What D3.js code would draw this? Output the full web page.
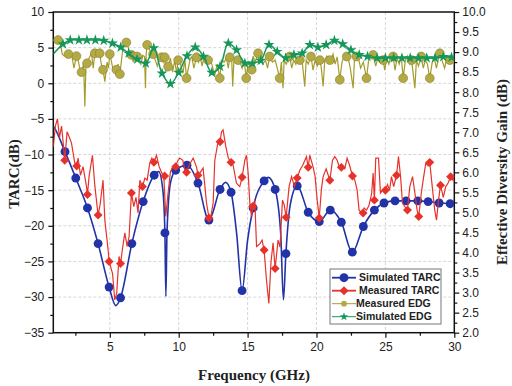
<!DOCTYPE html>
<html>
<head>
<meta charset="utf-8">
<script src="https://cdn.jsdelivr.net/npm/d3@7"></script>
<style>
  body { margin: 0; background: #fff; }
  svg { display: block; }
</style>
</head>
<body>
<div id="chart"></div>
<script>
// tick values
const xTicks = [5, 10, 15, 20, 25, 30];
const yLeftTicks = [-35, -30, -25, -20, -15, -10, -5, 0, 5, 10];
const yRightTicks = [2, 2.5, 3, 3.5, 4, 4.5, 5, 5.5, 6, 6.5, 7, 7.5, 8, 8.5, 9, 9.5, 10];

// Simulated TARC (dB) – line and its circle markers
const simTarcLine = [
  [0.9, -6.0], [1.0, -6.3], [1.75, -9.6], [2.53, -13.3], [3.38, -17.5], [4.15, -22.5],
  [4.95, -28.6], [5.44, -31.2], [5.78, -30.1], [6.6, -22.5], [7.42, -16.6], [8.22, -12.9],
  [8.55, -12.4], [8.85, -15.0], [9.0, -21.0], [9.07, -29.9], [9.15, -21.0], [9.4, -14.0],
  [9.78, -12.2], [10.6, -11.5], [11.4, -14.0], [12.19, -19.2], [13.0, -14.9], [13.4, -13.9],
  [13.8, -15.3], [14.2, -21.0], [14.6, -29.1], [15.0, -22.0], [15.4, -17.5], [16.2, -13.7],
  [16.5, -13.2], [17.0, -14.9], [17.4, -21.0], [17.6, -30.4], [17.78, -23.9], [18.1, -17.0],
  [18.6, -14.4], [19.4, -18.1], [20.2, -19.4], [21.0, -17.8], [21.8, -19.5], [22.6, -23.7],
  [23.4, -20.1], [24.2, -17.8], [24.9, -16.8], [25.7, -16.5], [26.5, -16.5], [27.35, -16.5],
  [28.1, -16.6], [28.9, -16.8], [29.7, -16.9], [30.0, -17.0]
];
const simTarcMarks = [
  [1.75, -9.6], [2.53, -13.3], [3.38, -17.5], [4.15, -22.5], [4.95, -28.6], [5.78, -30.1],
  [6.6, -22.5], [7.42, -16.6], [8.22, -12.9], [9.0, -21.0], [9.78, -12.2], [10.6, -11.5],
  [11.4, -14.0], [12.19, -19.2], [13.0, -14.9], [13.8, -15.3], [14.6, -29.1], [15.4, -17.5],
  [16.2, -13.7], [17.0, -14.9], [17.78, -23.9], [18.6, -14.4], [19.4, -18.1], [20.2, -19.4],
  [21.0, -17.8], [21.8, -19.5], [22.6, -23.7], [23.4, -20.1], [24.2, -17.8], [24.9, -16.8],
  [25.7, -16.5], [26.5, -16.5], [27.35, -16.5], [28.1, -16.6], [28.9, -16.8], [29.7, -16.9]
];

// Measured TARC (dB)
const measTarcLine = [
  [0.9, -8.9], [1.05, -6.0], [1.2, -5.0], [1.35, -7.6], [1.5, -6.0], [1.6, -8.0], [1.73, -10.8],
  [1.9, -6.8], [2.05, -7.5], [2.22, -8.4], [2.46, -11.2], [2.6, -11.6], [2.7, -10.5], [2.87, -12.9],
  [3.06, -11.7], [3.31, -14.5], [3.38, -15.6], [3.5, -13.0], [3.74, -10.1], [3.91, -14.3],
  [4.15, -18.5], [4.3, -17.0], [4.51, -13.6], [4.64, -19.2], [4.88, -23.4], [4.95, -25.0],
  [5.2, -26.7], [5.36, -30.4], [5.5, -29.5], [5.67, -24.3], [5.78, -25.3], [5.9, -23.5],
  [6.09, -21.0], [6.26, -22.9], [6.4, -21.5], [6.57, -15.4], [6.74, -17.3], [6.9, -16.0],
  [7.05, -18.2], [7.18, -13.6], [7.37, -14.5], [7.55, -13.3], [7.71, -13.6], [7.9, -11.2],
  [8.05, -10.5], [8.2, -11.1], [8.39, -10.1], [8.58, -11.7], [8.75, -12.5], [8.92, -13.0],
  [9.06, -18.7], [9.23, -15.4], [9.4, -12.4], [9.59, -11.7], [9.78, -11.7], [9.9, -11.0],
  [10.08, -10.5], [10.3, -10.8], [10.45, -12.2], [10.57, -12.5], [10.75, -11.5], [11.05, -10.5],
  [11.3, -11.8], [11.4, -12.9], [11.53, -12.6], [11.77, -11.9], [12.02, -16.8], [12.2, -18.9],
  [12.35, -18.5], [12.5, -16.8], [12.62, -10.8], [12.86, -8.2], [13.0, -8.2], [13.11, -6.8],
  [13.22, -6.55], [13.42, -8.9], [13.6, -10.5], [13.8, -11.1], [13.95, -11.5], [14.19, -14.0],
  [14.43, -14.5], [14.6, -13.2], [14.8, -10.8], [14.92, -10.1], [15.04, -12.6], [15.16, -16.8],
  [15.28, -18.7], [15.37, -17.3], [15.52, -16.4], [15.65, -22.9], [15.9, -22.5], [16.05, -22.0],
  [16.2, -23.4], [16.37, -27.6], [16.54, -30.9], [16.7, -25.0], [16.85, -22.4], [17.0, -26.0],
  [17.21, -22.0], [17.35, -23.0], [17.53, -16.4], [17.65, -17.0], [17.8, -18.8], [18.01, -14.5],
  [18.19, -13.1], [18.4, -14.5], [18.6, -13.3], [18.79, -12.2], [19.0, -11.5], [19.27, -10.3],
  [19.4, -11.8], [19.51, -10.1], [19.75, -11.7], [19.9, -13.1], [20.05, -16.4], [20.2, -18.9],
  [20.35, -15.0], [20.48, -13.1], [20.7, -12.0], [20.97, -13.6], [21.16, -10.8], [21.33, -10.3],
  [21.5, -10.8], [21.7, -12.0], [21.85, -11.8], [22.05, -12.0], [22.22, -10.5], [22.4, -11.5],
  [22.61, -13.0], [22.78, -13.6], [22.95, -15.0], [23.09, -17.8], [23.3, -18.2], [23.46, -17.5],
  [23.63, -17.8], [23.8, -17.2], [24.0, -15.5], [24.11, -12.6], [24.2, -16.4], [24.3, -10.5],
  [24.5, -10.5], [24.64, -15.4], [24.8, -15.0], [25.0, -15.0], [25.15, -14.2], [25.3, -15.0],
  [25.44, -13.1], [25.6, -14.5], [25.81, -12.9], [25.95, -10.3], [26.1, -13.1], [26.24, -16.8],
  [26.41, -17.3], [26.6, -17.8], [26.77, -14.5], [26.97, -13.1], [27.15, -15.5], [27.3, -17.8],
  [27.42, -18.7], [27.6, -15.5], [27.74, -13.6], [27.93, -11.2], [28.1, -11.6], [28.22, -11.1],
  [28.4, -14.5], [28.58, -17.8], [28.71, -19.2], [28.85, -16.5], [29.0, -14.3], [29.2, -16.0],
  [29.38, -14.5], [29.55, -14.0], [29.73, -13.1], [29.9, -13.6], [30.0, -13.0]
];
const measTarcMarks = [
  [1.73, -10.8], [2.6, -11.6], [3.38, -15.6], [4.15, -18.5], [4.95, -25.0], [5.78, -25.3],
  [6.57, -15.4], [7.37, -14.5], [8.2, -11.1], [8.98, -13.0], [9.78, -11.7], [10.57, -12.5],
  [11.4, -12.9], [12.2, -18.9], [13.0, -8.2], [13.8, -11.1], [14.6, -13.2], [15.37, -17.3],
  [16.2, -23.4], [17.0, -26.0], [17.8, -18.8], [18.6, -13.3], [19.4, -11.8], [20.2, -18.9],
  [20.97, -13.6], [21.8, -11.8], [22.61, -13.0], [23.38, -18.2], [24.2, -16.4], [25.0, -15.0],
  [25.81, -12.9], [26.6, -17.8], [27.42, -18.7], [28.22, -11.1], [29.0, -14.3], [29.73, -13.1]
];

// Measured EDG (dB, right axis)
const measEdgLine = [
  [0.9, 9.30], [1.1, 9.28], [1.4, 9.25], [1.55, 8.95], [1.7, 8.90], [1.85, 8.93],
  [2.25, 8.90], [2.4, 8.60], [2.7, 8.80], [2.85, 8.55],
  [3.1, 8.70], [3.19, 7.64], [3.27, 8.70], [3.5, 8.85], [3.67, 8.97],
  [3.8, 8.60], [4.05, 8.93], [4.38, 8.70], [4.64, 8.26], [4.8, 8.75], [4.9, 8.60],
  [5.1, 8.80], [5.24, 8.55], [5.36, 8.64], [5.6, 8.70],
  [5.85, 8.80], [6.0, 9.22], [6.35, 9.10], [6.45, 8.90], [6.7, 8.75],
  [6.81, 8.97], [7.1, 8.85], [7.25, 8.70], [7.4, 8.92], [7.52, 8.89], [7.59, 8.10], [7.64, 8.95],
  [7.9, 9.05], [8.3, 8.80], [8.45, 8.65], [8.6, 8.88], [8.88, 8.75], [9.05, 8.55],
  [9.4, 8.85], [9.55, 8.50], [9.72, 8.80], [9.85, 8.45], [10.1, 8.75], [10.3, 8.47], [10.45, 8.80],
  [10.7, 8.60], [10.85, 8.85], [10.95, 8.88], [11.1, 8.60], [11.45, 8.75], [11.55, 8.90],
  [11.7, 8.65], [11.82, 8.85], [12.0, 8.75], [12.3, 8.80], [12.45, 8.65], [12.6, 8.40],
  [12.8, 8.70], [13.1, 8.80], [13.3, 8.75], [13.47, 8.85], [13.6, 8.60], [13.85, 8.80],
  [13.92, 8.14], [14.0, 8.75], [14.15, 8.85], [14.45, 8.75], [14.6, 8.60], [14.75, 8.80],
  [15.05, 8.75], [15.4, 8.90], [15.55, 8.75], [15.85, 8.70], [16.0, 8.95], [16.1, 8.70],
  [16.3, 8.80], [16.45, 8.60], [16.8, 8.75], [17.0, 8.80], [17.15, 8.60], [17.45, 8.75],
  [17.57, 8.10], [17.65, 8.80], [17.8, 8.70], [18.2, 8.60], [18.35, 8.80], [18.5, 8.70],
  [18.65, 8.88], [18.95, 8.80], [19.15, 8.14], [19.25, 8.80], [19.4, 8.70],
  [19.75, 8.55], [19.9, 8.80], [20.05, 8.65], [20.35, 8.60], [20.48, 8.14], [20.6, 8.80],
  [20.75, 8.90], [21.1, 8.85], [21.2, 8.95], [21.35, 8.70], [21.5, 8.88], [21.85, 8.75],
  [22.0, 8.90], [22.3, 8.85], [22.45, 8.60], [22.66, 8.10], [22.75, 8.80], [23.05, 8.85],
  [23.2, 8.60], [23.4, 8.75], [23.8, 8.85], [23.95, 8.95], [24.3, 8.65], [24.45, 8.85],
  [24.6, 8.75], [24.95, 8.55], [25.1, 8.85], [25.25, 8.70], [25.4, 8.90], [25.7, 8.55],
  [25.85, 8.85], [26.0, 8.70], [26.15, 8.90], [26.45, 8.80], [26.6, 8.90], [26.77, 8.70],
  [27.14, 8.10], [27.25, 8.80], [27.4, 8.65], [27.75, 8.60], [27.9, 8.80], [28.05, 8.70],
  [28.4, 8.75], [28.55, 8.85], [28.7, 8.60], [29.1, 8.80], [29.3, 8.60], [29.45, 8.85],
  [29.8, 8.90], [30.0, 8.80]
];
const measEdgMarks = [
  [1.25, 9.30], [2.0, 8.95], [2.58, 8.90], [2.95, 8.50], [3.35, 8.72], [3.91, 8.97], [4.27, 8.97],
  [4.51, 8.56], [5.0, 8.95], [5.48, 8.56], [5.73, 8.45], [6.2, 9.24], [6.57, 8.93], [6.98, 8.89],
  [7.71, 9.18], [8.14, 8.95], [8.75, 8.87], [8.99, 8.87], [9.23, 8.64], [9.96, 8.80], [10.57, 8.35],
  [11.29, 8.87], [12.13, 8.80], [12.98, 8.35], [13.71, 8.87], [14.31, 8.80], [14.9, 8.35],
  [15.3, 8.56], [15.76, 8.97], [16.6, 8.89], [17.33, 8.35], [18.06, 8.89], [18.79, 8.80],
  [19.6, 8.89], [20.24, 8.80], [20.97, 8.80], [21.69, 8.31], [22.2, 8.89], [22.9, 8.89],
  [23.63, 8.35], [24.11, 8.93], [24.84, 8.80], [25.56, 8.89], [26.29, 8.35], [26.9, 8.80],
  [27.6, 8.89], [28.22, 8.35], [28.95, 8.97], [29.68, 8.80]
];

// Simulated EDG (dB, right axis)
const simEdgLine = [
  [0.9, 8.95], [1.6, 9.20], [2.13, 9.30], [2.76, 9.30], [3.34, 9.30], [3.95, 9.30], [4.56, 9.29],
  [5.19, 9.22], [5.79, 9.12], [6.37, 8.97], [6.98, 8.82], [7.61, 8.72], [8.19, 9.10], [8.79, 8.47],
  [9.4, 8.21], [10.0, 8.49], [10.6, 8.90], [11.2, 9.12], [11.8, 8.89], [12.4, 8.49], [13.0, 8.64],
  [13.6, 9.22], [14.2, 9.05], [14.8, 8.72], [15.35, 8.72], [15.95, 8.79], [16.55, 9.18],
  [17.15, 9.01], [17.76, 8.85], [18.36, 8.93], [18.96, 8.97], [19.52, 9.18], [20.1, 9.12],
  [20.7, 9.18], [21.3, 9.29], [21.9, 9.20], [22.5, 9.05], [23.1, 8.93], [23.7, 8.89], [24.4, 8.85],
  [25.0, 8.85], [25.6, 8.85], [26.2, 8.85], [26.8, 8.85], [27.4, 8.85], [28.0, 8.85], [28.6, 8.85],
  [29.2, 8.88], [29.8, 8.87]
];

const legendLabels = ["Simulated TARC", "Measured TARC", "Measured EDG", "Simulated EDG"];

const colors = {
  simTarc: "#2233a8",
  measTarc: "#e6322b",
  measEdg: "#a49c2c",
  measEdgFill: "#b3aa45",
  simEdg: "#16975a"
};

const width = 512, height = 386;
const plot = { left: 53.3, right: 454.3, top: 12, bottom: 332.7 };

const svg = d3.select("#chart").append("svg")
  .attr("width", width).attr("height", height);

const x = d3.scaleLinear().domain([0.9, 30]).range([plot.left, plot.right]);
const yL = d3.scaleLinear().domain([-35, 10]).range([plot.bottom, plot.top]);
const yR = d3.scaleLinear().domain([2, 10]).range([plot.bottom, plot.top]);

svg.append("defs").append("clipPath").attr("id", "clip")
  .append("rect")
  .attr("x", plot.left).attr("y", plot.top)
  .attr("width", plot.right - plot.left).attr("height", plot.bottom - plot.top);

// grid
const grid = svg.append("g").attr("stroke", "#d6d6d6").attr("stroke-width", 1)
  .attr("stroke-dasharray", "3,2");
grid.selectAll(".gx").data(xTicks.filter(d => d < 30)).join("line")
  .attr("x1", d => x(d)).attr("x2", d => x(d))
  .attr("y1", plot.top).attr("y2", plot.bottom);
grid.selectAll(".gy").data(yLeftTicks.filter(d => d > -35 && d < 10)).join("line")
  .attr("y1", d => yL(d)).attr("y2", d => yL(d))
  .attr("x1", plot.left).attr("x2", plot.right);

// axes
const fontSans = "'Liberation Sans', Arial, sans-serif";
const fontSerif = "'Liberation Serif', 'Times New Roman', serif";

function styleAxis(g) {
  g.select(".domain").remove();
  g.selectAll("line").attr("stroke", "#111").attr("stroke-width", 1.2);
  g.selectAll("text").attr("font-family", fontSans).attr("font-size", 12).attr("fill", "#222");
}

svg.append("g").attr("transform", `translate(0,${plot.bottom})`)
  .call(d3.axisBottom(x).tickValues(xTicks).tickSize(5).tickPadding(5).tickFormat(d3.format("d")))
  .call(styleAxis);
svg.append("g").attr("transform", `translate(0,${plot.bottom})`)
  .call(d3.axisBottom(x).tickValues(xTicks.map(d => d - 2.5)).tickSize(3).tickFormat(""))
  .call(styleAxis);

svg.append("g").attr("transform", `translate(${plot.left},0)`)
  .call(d3.axisLeft(yL).tickValues(yLeftTicks).tickSize(5).tickPadding(4).tickFormat(d3.format("d")))
  .call(styleAxis);
svg.append("g").attr("transform", `translate(${plot.left},0)`)
  .call(d3.axisLeft(yL).tickValues(yLeftTicks.slice(1).map(d => d - 2.5)).tickSize(3).tickFormat(""))
  .call(styleAxis);

svg.append("g").attr("transform", `translate(${plot.right},0)`)
  .call(d3.axisRight(yR).tickValues(yRightTicks).tickSize(5).tickPadding(3).tickFormat(d3.format(".1f")))
  .call(styleAxis);
svg.append("g").attr("transform", `translate(${plot.right},0)`)
  .call(d3.axisRight(yR).tickValues(yRightTicks.slice(1).map(d => d - 0.25)).tickSize(3).tickFormat(""))
  .call(styleAxis);

// frame
svg.append("rect")
  .attr("x", plot.left).attr("y", plot.top)
  .attr("width", plot.right - plot.left).attr("height", plot.bottom - plot.top)
  .attr("fill", "none").attr("stroke", "#111").attr("stroke-width", 1.5);

// series
const area = svg.append("g").attr("clip-path", "url(#clip)");

const lineL = d3.line().x(d => x(d[0])).y(d => yL(d[1]));
const lineSmoothL = d3.line().x(d => x(d[0])).y(d => yL(d[1])).curve(d3.curveMonotoneX);
const lineR = d3.line().x(d => x(d[0])).y(d => yR(d[1]));
const lineSmoothR = d3.line().x(d => x(d[0])).y(d => yR(d[1])).curve(d3.curveCatmullRom);

const circleSym = d3.symbol().type(d3.symbolCircle).size(62);
const diamondSym = d3.symbol().type(d3.symbolSquare).size(40);
const starSym = d3.symbol().type(d3.symbolStar).size(38);

// simulated TARC
area.append("path").datum(simTarcLine).attr("d", lineSmoothL)
  .attr("fill", "none").attr("stroke", colors.simTarc).attr("stroke-width", 1.6);
area.selectAll(".st").data(simTarcMarks).join("path")
  .attr("d", circleSym)
  .attr("transform", d => `translate(${x(d[0])},${yL(d[1])})`)
  .attr("fill", colors.simTarc);

// measured TARC
area.append("path").datum(measTarcLine).attr("d", lineL)
  .attr("fill", "none").attr("stroke", colors.measTarc).attr("stroke-width", 1.2);
area.selectAll(".mt").data(measTarcMarks).join("path")
  .attr("d", diamondSym)
  .attr("transform", d => `translate(${x(d[0])},${yL(d[1])}) rotate(45)`)
  .attr("fill", colors.measTarc);

// measured EDG: marker points are points of the trace as well
const measEdgAll = measEdgLine.concat(measEdgMarks).sort((a, b) => a[0] - b[0]);
area.append("path").datum(measEdgAll).attr("d", lineR)
  .attr("fill", "none").attr("stroke", colors.measEdg).attr("stroke-width", 1.2);
area.selectAll(".me").data(measEdgMarks).join("path")
  .attr("d", circleSym)
  .attr("transform", d => `translate(${x(d[0])},${yR(d[1])})`)
  .attr("fill", colors.measEdgFill).attr("stroke", "#8a8228").attr("stroke-width", 0.6);

// simulated EDG
area.append("path").datum(simEdgLine).attr("d", lineSmoothR)
  .attr("fill", "none").attr("stroke", colors.simEdg).attr("stroke-width", 1.5);
area.selectAll(".se").data(simEdgLine.slice(1)).join("path")
  .attr("d", starSym)
  .attr("transform", d => `translate(${x(d[0])},${yR(d[1])})`)
  .attr("fill", colors.simEdg);

// axis titles
svg.append("text")
  .attr("transform", `translate(19,174) rotate(-90)`)
  .attr("text-anchor", "middle")
  .attr("font-family", fontSerif).attr("font-weight", "bold").attr("font-size", 15)
  .attr("fill", "#222")
  .text("TARC(dB)");
svg.append("text")
  .attr("transform", `translate(507,172) rotate(-90)`)
  .attr("text-anchor", "middle")
  .attr("font-family", fontSerif).attr("font-weight", "bold").attr("font-size", 15)
  .attr("fill", "#222")
  .text("Effective Diversity Gain (dB)");
svg.append("text")
  .attr("x", 254).attr("y", 380)
  .attr("text-anchor", "middle")
  .attr("font-family", fontSerif).attr("font-weight", "bold").attr("font-size", 15)
  .attr("fill", "#222")
  .text("Frequency (GHz)");

// legend
const legend = svg.append("g").attr("transform", "translate(330,269)");
legend.append("rect")
  .attr("width", 111).attr("height", 55)
  .attr("fill", "#fff").attr("stroke", "#777").attr("stroke-width", 1);

const legendStyle = [
  { color: colors.simTarc, sym: circleSym, rot: 0, fill: colors.simTarc, w: 1.8, tx: 29 },
  { color: colors.measTarc, sym: diamondSym, rot: 45, fill: colors.measTarc, w: 1.8, tx: 29 },
  { color: colors.measEdg, sym: d3.symbol().type(d3.symbolCircle).size(26), rot: 0, fill: colors.measEdgFill, w: 1, tx: 26 },
  { color: colors.simEdg, sym: d3.symbol().type(d3.symbolStar).size(22), rot: 0, fill: colors.simEdg, w: 1, tx: 26 }
];
const rowY = d3.scalePoint().domain(legendLabels).range([8.7, 47.7]);

legendLabels.forEach((label, i) => {
  const s = legendStyle[i];
  const cy = rowY(label);
  legend.append("line")
    .attr("x1", 2).attr("x2", 26).attr("y1", cy).attr("y2", cy)
    .attr("stroke", s.color).attr("stroke-width", s.w);
  legend.append("path")
    .attr("d", s.sym)
    .attr("transform", `translate(14,${cy}) rotate(${s.rot})`)
    .attr("fill", s.fill);
  legend.append("text")
    .attr("x", s.tx).attr("y", cy).attr("dy", "0.35em")
    .attr("font-family", fontSans).attr("font-weight", "bold").attr("font-size", 10.5)
    .attr("fill", "#222")
    .text(label);
});
</script>
</body>
</html>
